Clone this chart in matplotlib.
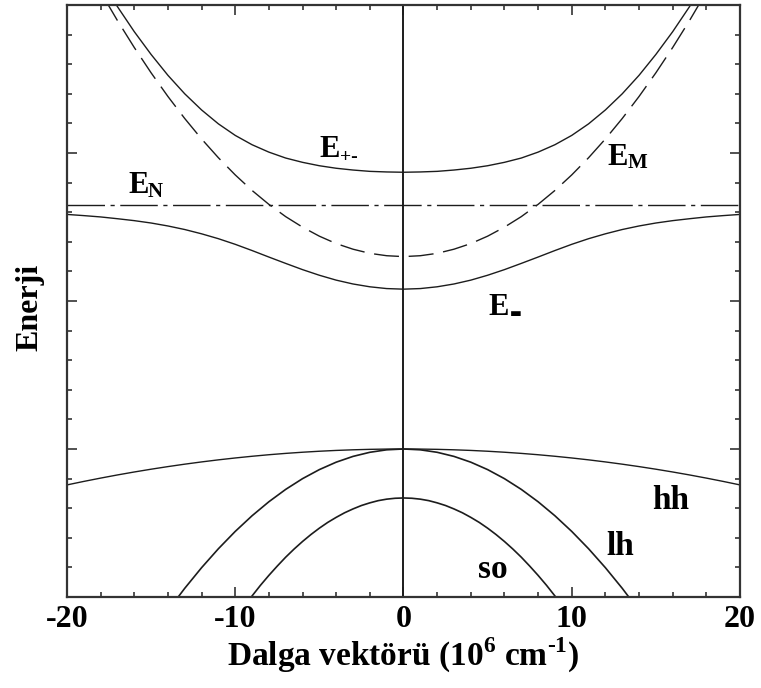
import numpy as np
import matplotlib
matplotlib.use("Agg")
import matplotlib.pyplot as plt
from matplotlib.ticker import MultipleLocator

plt.rcParams['font.family'] = ['Liberation Serif', 'DejaVu Sans']
plt.rcParams['font.weight'] = 'bold'
plt.rcParams['axes.unicode_minus'] = False
plt.rcParams['mathtext.fontset'] = 'custom'
plt.rcParams['mathtext.rm'] = 'Liberation Serif:bold'
plt.rcParams['mathtext.bf'] = 'Liberation Serif:bold'

# bands are symmetric in k, so only k >= 0 is listed (10^6 cm^-1)
# energies relative to the valence band top
k_half = list(range(0, 21))
E_plus_half = [1.870, 1.872, 1.876, 1.885, 1.897, 1.914, 1.937, 1.966, 2.006, 2.056, 2.119,
               2.197, 2.291, 2.400, 2.525, 2.666, 2.820, 2.989, 3.170, 3.366, 3.573]
E_minus_half = [1.080, 1.084, 1.096, 1.115, 1.141, 1.174, 1.212, 1.254, 1.297, 1.341, 1.383,
                1.421, 1.454, 1.483, 1.507, 1.527, 1.543, 1.556, 1.568, 1.577, 1.585]
E_M_half = [1.300, 1.306, 1.322, 1.350, 1.388, 1.438, 1.499, 1.570, 1.653, 1.747, 1.852,
            1.968, 2.095, 2.233, 2.382, 2.542, 2.713, 2.895, 3.088, 3.293, 3.508]
E_N = 1.65
E_hh_half = [0.0, -0.0006, -0.0024, -0.0055, -0.0097, -0.0152, -0.0219, -0.0297, -0.0388,
             -0.0492, -0.0607, -0.0734, -0.0874, -0.1026, -0.1190, -0.1366, -0.1554,
             -0.1754, -0.1967, -0.2191, -0.2428]
k_lh_half = list(range(0, 15))
E_lh_half = [0.0, -0.0056, -0.0223, -0.0501, -0.0891, -0.1393, -0.2005, -0.2729,
             -0.3565, -0.4512, -0.5570, -0.6740, -0.8021, -0.9413, -1.0917]
k_so_half = [0, 0.5, 1, 1.5, 2, 2.5, 3, 3.5, 4, 4.5, 5, 5.5, 6, 6.5, 7, 7.5, 8, 8.5, 9, 9.5, 10]
E_so_half = [-0.331, -0.333, -0.339, -0.349, -0.364, -0.382, -0.405, -0.431, -0.462,
             -0.496, -0.535, -0.578, -0.625, -0.676, -0.731, -0.791, -0.854, -0.921,
             -0.993, -1.068, -1.148]

xticks = [-20, -10, 0, 10, 20]
xtick_labels = ['-20', '-10', '0', '10', '20']


def full_k(kh):
    kh = np.asarray(kh, dtype=float)
    return np.concatenate([-kh[:0:-1], kh])


def full_e(eh):
    eh = np.asarray(eh, dtype=float)
    return np.concatenate([eh[:0:-1], eh])


fig = plt.figure(figsize=(7.61, 6.88), dpi=100)
ax = fig.add_axes([0.088, 0.1323, 0.8844, 0.8604])

lc = '#1c1c1c'
ax.plot(full_k(k_half), full_e(E_plus_half), color=lc, lw=1.0)
ax.plot(full_k(k_half), full_e(E_minus_half), color=lc, lw=1.0)
ax.plot(full_k(k_half), full_e(E_M_half), color=lc, lw=1.0, dashes=(18, 7))
ax.axhline(E_N, color=lc, lw=1.0, dashes=(27, 4, 3, 4))
ax.plot(full_k(k_half), full_e(E_hh_half), color=lc, lw=1.0)
ax.plot(full_k(k_lh_half), full_e(E_lh_half), color=lc, lw=1.2)
ax.plot(full_k(k_so_half), full_e(E_so_half), color=lc, lw=1.2)
ax.axvline(0, color=lc, lw=1.4)

ax.set_xlim(-20, 20)
ax.set_ylim(-1, 3)

ax.set_xticks(xticks)
ax.set_xticklabels(xtick_labels, fontsize=23, fontweight='bold')
ax.xaxis.set_minor_locator(MultipleLocator(2))
ax.yaxis.set_major_locator(MultipleLocator(1))
ax.yaxis.set_minor_locator(MultipleLocator(0.2))
ax.set_yticklabels([])
ax.tick_params(which='both', direction='in', top=True, right=True,
               color='#333333', width=1.2)
ax.tick_params(which='major', length=7.5, pad=6)
ax.tick_params(which='minor', length=3.8)
for s in ax.spines.values():
    s.set_linewidth(1.6)
    s.set_color('#333333')

ax.set_xlabel(r'Dalga vektörü (10$^{6}$ cm$^{\text{-1}}$)', fontsize=24,
              fontweight='bold', labelpad=1)
ax.text(-0.055, 0.49, 'Enerji', transform=ax.transAxes, rotation=90,
        ha='center', va='center', fontsize=23, fontweight='bold')

# band labels
big = 22
sub = 15
ax.text(-5.0, 1.97, 'E', fontsize=big, ha='left', va='baseline')
ax.text(-3.8, 1.94, '+-', fontsize=14, ha='left', va='baseline')
ax.text(12.1, 1.92, 'E', fontsize=big, ha='left', va='baseline')
ax.text(13.3, 1.90, 'M', fontsize=sub, ha='left', va='baseline')
ax.text(-16.37, 1.73, 'E', fontsize=big, ha='left', va='baseline')
ax.text(-15.2, 1.70, 'N', fontsize=sub, ha='left', va='baseline')
ax.text(5.02, 0.905, 'E', fontsize=big, ha='left', va='baseline')
ax.text(6.3, 0.89, '▬', fontsize=9, ha='left', va='baseline',
        family='DejaVu Sans')
ax.text(14.8, -0.405, 'hh', fontsize=24, ha='left', va='baseline')
ax.text(12.05, -0.716, 'lh', fontsize=24, ha='left', va='baseline')
ax.text(4.45, -0.872, 'so', fontsize=24, ha='left', va='baseline')

fig.savefig('out.png', dpi=100)
